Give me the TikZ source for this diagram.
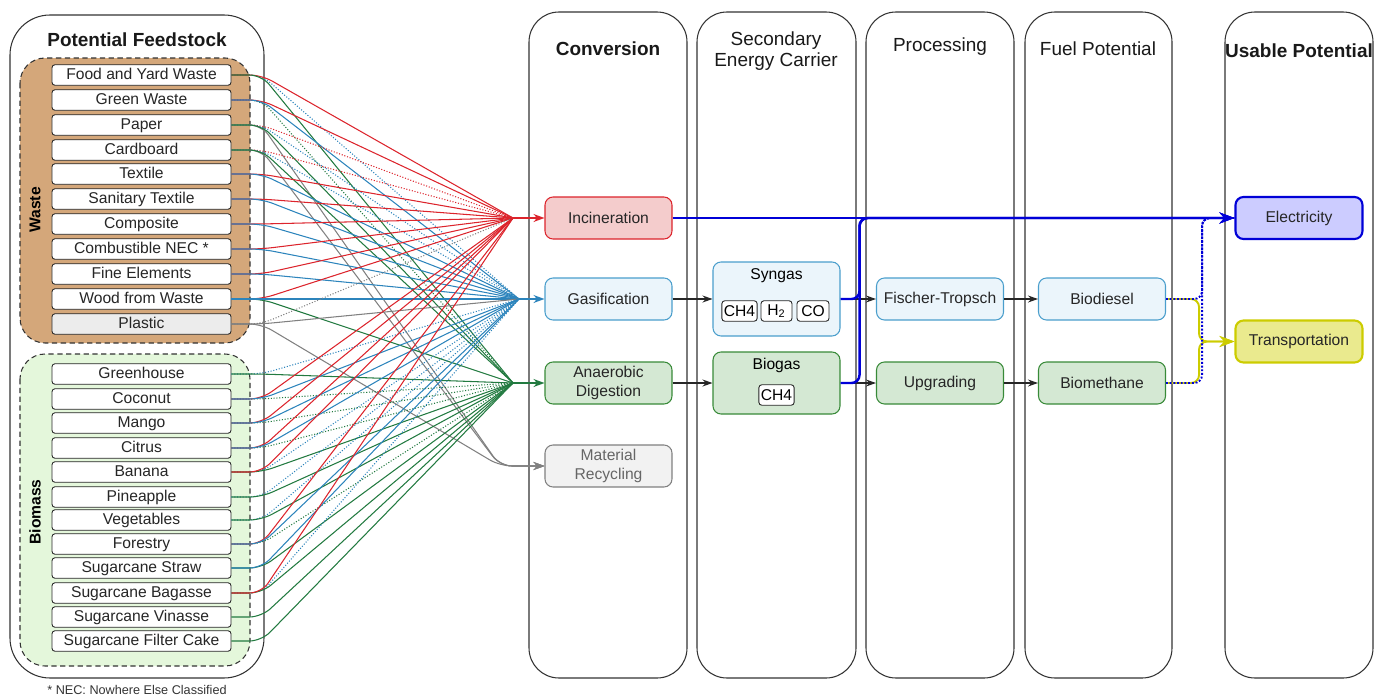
\documentclass[tikz,border=0pt]{standalone}
\usepackage{fontspec}
\setmainfont{Liberation Sans}
\usetikzlibrary{shapes,arrows,arrows.meta,positioning,calc}
\usepackage{xcolor}

\definecolor{incred}{RGB}{220,36,44}
\definecolor{gasblue}{RGB}{44,132,188}
\definecolor{adgreen}{RGB}{34,122,64}
\definecolor{mrgray}{RGB}{128,128,128}
\definecolor{wastetan}{RGB}{212,167,122}
\definecolor{biomassfill}{RGB}{228,247,219}
\definecolor{plasticfill}{RGB}{236,236,236}
\definecolor{incfill}{RGB}{244,204,204}
\definecolor{gasfill}{RGB}{235,245,251}
\definecolor{gasdraw}{RGB}{74,158,204}
\definecolor{adfill}{RGB}{212,232,211}
\definecolor{addraw}{RGB}{56,138,56}
\definecolor{mrfill}{RGB}{242,242,242}
\definecolor{elecblue}{RGB}{0,0,215}
\definecolor{elecfill}{RGB}{204,204,255}
\definecolor{transyellow}{RGB}{204,204,0}
\definecolor{transfill}{RGB}{234,234,142}

\tikzset{
  lane/.style={draw=black!80, line width=0.6pt, rounded corners=6mm},
  lanehead/.style={font=\fontsize{10.8}{12.4}\selectfont, align=center, text=black!90},
  group/.style={draw=black!80, densely dashed, line width=0.6pt, rounded corners=5mm},
  feed/.style={draw=black!85, fill=white, rounded corners=0.6mm, minimum width=35.8mm, minimum height=4.1mm, inner sep=0pt, line width=0.5pt, text=black!85, text height=0.72em, text depth=0.2em},
  stage/.style={rounded corners=1.6mm, minimum width=25.4mm, minimum height=8.4mm, inner sep=0pt, align=center, line width=0.6pt, text=black!85},
  incbox/.style={stage, draw=incred, fill=incfill},
  gasbox/.style={stage, draw=gasdraw, fill=gasfill},
  adbox/.style={stage, draw=addraw, fill=adfill},
  mrbox/.style={stage, draw=mrgray, fill=mrfill, text=black!60},
  chip/.style={draw=black!85, fill=white, rounded corners=0.6mm, minimum height=4.1mm, inner xsep=0.4mm, inner ysep=0pt, line width=0.5pt},
  link/.style={rounded corners=2.4mm, line width=0.6pt},
  toinc/.style={link, draw=incred},
  toincd/.style={toinc, densely dotted},
  togas/.style={link, draw=gasblue},
  togasd/.style={togas, densely dotted},
  toad/.style={link, draw=adgreen},
  toadd/.style={toad, densely dotted},
  graylink/.style={link, draw=mrgray},
  graylinkd/.style={graylink, densely dotted},
  tip/.style={-{Stealth[length=2.2mm,width=1.6mm]}},
  feedarrow/.style={line width=0.8pt, tip},
  flow/.style={draw=black!85, line width=0.6pt, -{Stealth[length=2mm,width=1.4mm]}},
  power/.style={draw=elecblue, line width=1.4pt, rounded corners=1.6mm, -{Stealth[length=3mm,width=2.2mm]}},
  fuel/.style={draw=transyellow, line width=1.1pt, rounded corners=1.6mm, -{Stealth[length=3mm,width=2.2mm]}},
  fuelpower/.style={draw=elecblue, line width=1.1pt, densely dotted, rounded corners=1.6mm},
}

\begin{document}
\begin{tikzpicture}[x=0.2mm, y=-0.2mm, font=\fontsize{8.9}{10.8}\selectfont]
  \useasboundingbox (0,0) rectangle (1386,698);

  % Lanes
  \draw[lane, rounded corners=8mm] (10,15) rectangle (264,678);
  \draw[lane] (529,12) rectangle (687,678);
  \draw[lane] (697,12) rectangle (856,678);
  \draw[lane] (866,12) rectangle (1014,678);
  \draw[lane] (1025,12) rectangle (1172,678);
  \draw[lane] (1225,12) rectangle (1373,678);

  % Lane titles
  \node[lanehead] (tfeed) at (137,40) {\bfseries Potential Feedstock};
  \node[lanehead] (tconv) at (608,49) {\bfseries Conversion};
  \node[lanehead] (tcarrier) at (776,51) {Secondary\\Energy Carrier};
  \node[lanehead] (tproc) at (940,47) {Processing};
  \node[lanehead] (tfuel) at (1098,49) {Fuel Potential};
  \node[lanehead] (tuse) at (1299,51) {\bfseries Usable Potential};

  % Feedstock groups
  \draw[group, fill=wastetan] (20,58) rectangle (250,343);
  \draw[group, fill=biomassfill] (20,354) rectangle (250,666);
  \node[rotate=90] (lwaste) at (35,210) {\bfseries Waste};
  \node[rotate=90] (lbiomass) at (35,512) {\bfseries Biomass};

  % Waste feedstock
  \node[feed] (food) at (141.5,75) {Food and Yard Waste};
  \node[feed] (green) at (141.5,100) {Green Waste};
  \node[feed] (paper) at (141.5,125) {Paper};
  \node[feed] (cardboard) at (141.5,150) {Cardboard};
  \node[feed] (textile) at (141.5,174) {Textile};
  \node[feed] (sanitary) at (141.5,199) {Sanitary Textile};
  \node[feed] (composite) at (141.5,224) {Composite};
  \node[feed] (nec) at (141.5,249) {Combustible NEC *};
  \node[feed] (fine) at (141.5,274) {Fine Elements};
  \node[feed] (wood) at (141.5,299) {Wood from Waste};
  \node[feed, fill=plasticfill] (plastic) at (141.5,324) {Plastic};

  % Biomass feedstock
  \node[feed] (greenhouse) at (141.5,374) {Greenhouse};
  \node[feed] (coconut) at (141.5,399) {Coconut};
  \node[feed] (mango) at (141.5,423) {Mango};
  \node[feed] (citrus) at (141.5,448) {Citrus};
  \node[feed] (banana) at (141.5,472) {Banana};
  \node[feed] (pineapple) at (141.5,497) {Pineapple};
  \node[feed] (vegetables) at (141.5,520) {Vegetables};
  \node[feed] (forestry) at (141.5,544) {Forestry};
  \node[feed] (straw) at (141.5,568) {Sugarcane Straw};
  \node[feed] (bagasse) at (141.5,593) {Sugarcane Bagasse};
  \node[feed] (vinasse) at (141.5,617) {Sugarcane Vinasse};
  \node[feed] (filter) at (141.5,641) {Sugarcane Filter Cake};

  \node[font=\fontsize{7.2}{8}\selectfont, text=black!80] (note) at (137,690) {* NEC: Nowhere Else Classified};

  % Conversion
  \node[incbox] (incin) at (608.5,218) {Incineration};
  \node[gasbox] (gasif) at (608.5,299) {Gasification};
  \node[adbox] (anaer) at (608.5,383) {Anaerobic\\Digestion};
  \node[mrbox] (recyc) at (608.5,466) {Material\\Recycling};

  % Secondary energy carriers
  \node[gasbox, minimum height=14.8mm] (syngas) at (776.5,299) {};
  \node (tsyngas) at (776.5,276) {Syngas};
  \node[chip, minimum width=6.8mm] (sch4) at (739.5,311) {CH4};
  \node[chip, minimum width=6.2mm] (sh2) at (776.5,311) {H\textsubscript{2}};
  \node[chip, minimum width=6.4mm] (sco) at (813,311) {CO};
  \node[adbox, minimum height=12.4mm] (biogas) at (776.5,383) {};
  \node (tbiogas) at (776.5,365) {Biogas};
  \node[chip, minimum width=6.6mm] (bch4) at (776.5,395) {CH4};

  % Processing and fuels
  \node[gasbox] (fischer) at (940,299) {Fischer-Tropsch};
  \node[adbox] (upgrad) at (940,383) {Upgrading};
  \node[gasbox] (biodiesel) at (1102,299) {Biodiesel};
  \node[adbox] (biometh) at (1102,383) {Biomethane};

  % Usable potential
  \node[stage, draw=elecblue, fill=elecfill, line width=1.2pt] (elec) at (1299,218) {Electricity};
  \node[stage, draw=transyellow, fill=transfill, line width=1.2pt] (transp) at (1299,341.5) {Transportation};

  % Junctions in front of the conversion boxes
  \coordinate (jinc) at (513,218);
  \coordinate (jgas) at (519,299);
  \coordinate (jad) at (513,383);
  \coordinate (jmr) at (500,466);

  % Waste links
  \draw[togasd] (food.east) -- ++(30,0) -- (jgas);
  \draw[toinc] (food.east) -- ++(30,0) -- (jinc);
  \draw[toad] (food.east) -- ++(30,0) -- (jad);
  \draw[toadd] (green.east) -- ++(30,0) -- (jad);
  \draw[toinc] (green.east) -- ++(30,0) -- (jinc);
  \draw[togas] (green.east) -- ++(30,0) -- (jgas);
  \draw[toincd] (paper.east) -- ++(30,0) -- (jinc);
  \draw[togasd] (paper.east) -- ++(30,0) -- (jgas);
  \draw[graylink, tip] (paper.east) -- ++(30,0) -- (jmr) -- (recyc);
  \draw[toad] (paper.east) -- ++(30,0) -- (jad);
  \draw[toincd] (cardboard.east) -- ++(30,0) -- (jinc);
  \draw[togasd] (cardboard.east) -- ++(30,0) -- (jgas);
  \draw[graylink, tip] (cardboard.east) -- ++(30,0) -- (jmr) -- (recyc);
  \draw[toad] (cardboard.east) -- ++(30,0) -- (jad);
  \draw[toinc] (textile.east) -- ++(30,0) -- (jinc);
  \draw[togas] (textile.east) -- ++(30,0) -- (jgas);
  \draw[toinc] (sanitary.east) -- ++(30,0) -- (jinc);
  \draw[togas] (sanitary.east) -- ++(30,0) -- (jgas);
  \draw[toinc] (composite.east) -- ++(30,0) -- (jinc);
  \draw[togas] (composite.east) -- ++(30,0) -- (jgas);
  \draw[toinc] (nec.east) -- ++(30,0) -- (jinc);
  \draw[togas] (nec.east) -- ++(30,0) -- (jgas);
  \draw[toinc] (fine.east) -- ++(30,0) -- (jinc);
  \draw[togas] (fine.east) -- ++(30,0) -- (jgas);
  \draw[toad] (wood.east) -- ++(30,0) -- (jad);
  \draw[toinc] (wood.east) -- ++(30,0) -- (jinc);
  \draw[togas] (wood.east) -- ++(30,0) -- (jgas);
  \draw[graylinkd] (plastic.east) -- ++(30,0) -- (jinc);
  \draw[graylink] (plastic.east) -- ++(30,0) -- (jgas);
  \draw[graylink, tip] (plastic.east) -- ++(30,0) -- (jmr) -- (recyc);

  % Biomass links
  \draw[togasd] (greenhouse.east) -- ++(30,0) -- (jgas);
  \draw[toad] (greenhouse.east) -- ++(30,0) -- (jad);
  \draw[toadd] (coconut.east) -- ++(30,0) -- (jad);
  \draw[toinc] (coconut.east) -- ++(30,0) -- (jinc);
  \draw[togas] (coconut.east) -- ++(30,0) -- (jgas);
  \draw[toadd] (mango.east) -- ++(30,0) -- (jad);
  \draw[toinc] (mango.east) -- ++(30,0) -- (jinc);
  \draw[togas] (mango.east) -- ++(30,0) -- (jgas);
  \draw[toadd] (citrus.east) -- ++(30,0) -- (jad);
  \draw[toinc] (citrus.east) -- ++(30,0) -- (jinc);
  \draw[togas] (citrus.east) -- ++(30,0) -- (jgas);
  \draw[togasd] (banana.east) -- ++(30,0) -- (jgas);
  \draw[toad] (banana.east) -- ++(30,0) -- (jad);
  \draw[toinc] (banana.east) -- ++(30,0) -- (jinc);
  \draw[togasd] (pineapple.east) -- ++(30,0) -- (jgas);
  \draw[toad] (pineapple.east) -- ++(30,0) -- (jad);
  \draw[togasd] (vegetables.east) -- ++(30,0) -- (jgas);
  \draw[toad] (vegetables.east) -- ++(30,0) -- (jad);
  \draw[toadd] (forestry.east) -- ++(30,0) -- (jad);
  \draw[toinc] (forestry.east) -- ++(30,0) -- (jinc);
  \draw[togas] (forestry.east) -- ++(30,0) -- (jgas);
  \draw[toad] (straw.east) -- ++(30,0) -- (jad);
  \draw[togas] (straw.east) -- ++(30,0) -- (jgas);
  \draw[togasd] (bagasse.east) -- ++(30,0) -- (jgas);
  \draw[toad] (bagasse.east) -- ++(30,0) -- (jad);
  \draw[toinc] (bagasse.east) -- ++(30,0) -- (jinc);
  \draw[toad] (vinasse.east) -- ++(30,0) -- (jad);
  \draw[toad] (filter.east) -- ++(30,0) -- (jad);

  % Into the conversion boxes
  \draw[feedarrow, draw=incred] (jinc) -- (incin);
  \draw[feedarrow, draw=gasblue] (jgas) -- (gasif);
  \draw[feedarrow, draw=adgreen] (jad) -- (anaer);

  % Process chain
  \draw[flow] (gasif) -- (syngas);
  \draw[flow] (anaer) -- (biogas);
  \draw[flow] (syngas) -- (fischer);
  \draw[flow] (biogas) -- (upgrad);
  \draw[flow] (fischer) -- (biodiesel);
  \draw[flow] (upgrad) -- (biometh);

  % Electricity
  \draw[power] (incin) -- (elec);
  \draw[power] (syngas.east) -- ++(19,0) |- (elec.west);
  \draw[power] (biogas.east) -- ++(19,0) |- (elec.west);

  % Fuels
  \draw[fuel] (biodiesel.east) -- ++(33,0) |- (transp.west);
  \draw[fuel] (biometh.east) -- ++(33,0) |- (transp.west);
  \draw[fuelpower] (biodiesel.east) -- ++(36,0) |- (elec.west);
  \draw[fuelpower] (biometh.east) -- ++(36,0) |- (elec.west);
\end{tikzpicture}
\end{document}
